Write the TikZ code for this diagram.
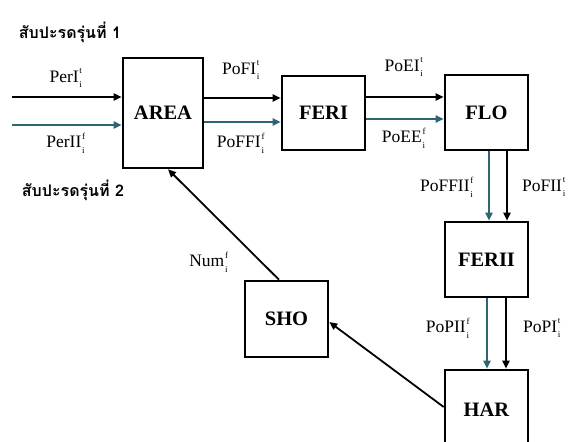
\documentclass[tikz,border=0pt]{standalone}
\usepackage{fontspec}
\setmainfont{Liberation Serif}
\newfontfamily\thaifont[Script=Thai]{Loma}
\usetikzlibrary{arrows.meta}
\definecolor{tealc}{RGB}{47,100,115}
\newcommand\supsub[2]{\makebox[0pt][l]{\raisebox{0.5em}{\fontsize{9}{9}\selectfont #1}}\raisebox{-0.3em}{\fontsize{9}{9}\selectfont #2}\phantom{\fontsize{9}{9}\selectfont #1}}
\newcommand\lbl[2]{#1\kern0.8pt\supsub{#2}{i}}
\begin{document}
\begin{tikzpicture}[x=1pt,y=-1pt,
  blk/.style={draw,line width=2.6pt,minimum width=#1,inner sep=0pt,font=\fontsize{20.5}{20}\selectfont\bfseries},
  arr/.style={line width=1.8pt,-{Triangle[length=8pt,width=7pt]}},
  tarr/.style={arr,draw=tealc,-{Triangle[length=8pt,width=7pt,fill=tealc]}},
  lab/.style={font=\fontsize{17.5}{17}\selectfont,inner sep=0pt},
  thai/.style={font=\thaifont\bfseries\fontsize{16}{16}\selectfont,inner sep=0pt}]
\useasboundingbox (0,0) rectangle (571,442);
\begin{scope}
\clip (0,0) rectangle (571,442);
\node[blk=80pt,minimum height=110pt] (area) at (163,113) {AREA};
\node[blk=83pt,minimum height=74pt] (feri) at (323.5,113) {FERI};
\node[blk=83pt,minimum height=75pt] (flo) at (486.5,112.5) {FLO};
\node[blk=83pt,minimum height=75pt] (ferii) at (486.5,259.5) {FERII};
\node[blk=83pt,minimum height=80pt] (har) at (486.5,410) {HAR};
\node[blk=83pt,minimum height=76pt] (sho) at (286.5,319) {SHO};
\end{scope}
\coordinate (in1) at (12,97);
\coordinate (in2) at (12,125);
\draw[arr] (in1) -- (area.west |- in1);
\draw[tarr] (in2) -- (area.west |- in2);
\draw[arr] (area.east |- 0,98) -- (feri.west |- 0,98);
\draw[tarr] (area.east |- 0,122) -- (feri.west |- 0,122);
\draw[arr] (feri.east |- 0,97) -- (flo.west |- 0,97);
\draw[tarr] (feri.east |- 0,119) -- (flo.west |- 0,119);
\draw[tarr] (flo.south -| 489,0) -- (ferii.north -| 489,0);
\draw[arr] (flo.south -| 507,0) -- (ferii.north -| 507,0);
\draw[tarr] (ferii.south -| 487,0) -- (har.north -| 487,0);
\draw[arr] (ferii.south -| 506,0) -- (har.north -| 506,0);
\draw[arr] (har.west |- 0,407) -- (sho.east |- 0,322);
\draw[arr] (sho.north -| 279,0) -- (area.south -| 168,0);
\node[thai] (t1) at (70,32) {สับปะรดรุ่นที่ 1};
\node[thai] (t2) at (73,190) {สับปะรดรุ่นที่ 2};
\node[lab] (l1) at (67,78) {\lbl{PerI}{t}};
\node[lab] (l2) at (67,143) {\lbl{PerII}{f}};
\node[lab] (l3) at (242,70) {\lbl{PoFI}{t}};
\node[lab] (l4) at (242,143) {\lbl{PoFFI}{f}};
\node[lab] (l5) at (405,67) {\lbl{PoEI}{t}};
\node[lab] (l6) at (405,138) {\lbl{PoEE}{f}};
\node[lab] (l7) at (448,187) {\lbl{PoFFII}{f}};
\node[lab] (l8) at (545,187) {\lbl{PoFII}{t}};
\node[lab] (l9) at (449,328) {\lbl{PoPII}{f}};
\node[lab] (l10) at (543,328) {\lbl{PoPI}{t}};
\node[lab] (l11) at (210,262) {\lbl{Num}{f}};
\end{tikzpicture}
\end{document}
